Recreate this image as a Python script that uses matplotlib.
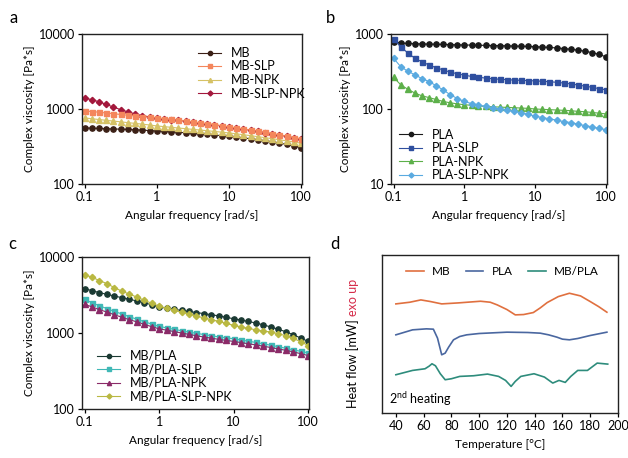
import matplotlib
matplotlib.use("Agg")
import matplotlib.pyplot as plt
from matplotlib.ticker import FixedLocator, NullLocator, FixedFormatter

plt.rcParams['font.family'] = ['Lato', 'DejaVu Sans']
plt.rcParams['mathtext.fontset'] = 'custom'
plt.rcParams['mathtext.rm'] = 'Lato'
plt.rcParams['font.size'] = 8.5

# angular frequency sweep [rad/s]
freq = [0.1, 0.126, 0.158, 0.2, 0.251, 0.316, 0.398, 0.501, 0.631, 0.794,
        1.0, 1.26, 1.58, 2.0, 2.51, 3.16, 3.98, 5.01, 6.31, 7.94,
        10, 12.6, 15.8, 20, 25.1, 31.6, 39.8, 50.1, 63.1, 79.4, 100]

# panel a: MB composites, complex viscosity [Pa*s]
mb = [560, 555, 550, 546, 542, 538, 533, 528, 522, 516, 510, 503, 496, 489, 482, 474,
      466, 458, 450, 441, 432, 422, 412, 401, 390, 378, 365, 351, 337, 322, 305]
mb_slp = [940, 925, 905, 885, 865, 845, 825, 805, 790, 775, 760, 742, 725, 708, 690, 672,
          654, 636, 618, 598, 578, 560, 542, 524, 506, 488, 470, 452, 434, 416, 400]
mb_npk = [760, 742, 724, 706, 690, 674, 658, 643, 628, 612, 595, 582, 570, 558, 546, 535,
          524, 513, 502, 491, 480, 467, 454, 441, 428, 415, 402, 389, 376, 363, 350]
mb_slp_npk = [1400, 1330, 1250, 1150, 1060, 980, 915, 860, 815, 785, 758, 740, 722, 705, 687, 669,
              651, 633, 615, 595, 575, 557, 539, 521, 503, 485, 467, 449, 431, 413, 397]

# panel b: PLA composites
pla = [790, 760, 748, 742, 738, 734, 730, 726, 722, 718, 714, 711, 708, 705, 702, 699,
       696, 692, 688, 683, 677, 670, 662, 652, 640, 626, 610, 590, 565, 535, 495]
pla_slp = [850, 680, 560, 475, 425, 387, 355, 332, 310, 295, 282, 272, 265, 258, 253, 249,
           246, 243, 241, 239, 237, 234, 231, 227, 222, 216, 209, 202, 195, 187, 180]
pla_npk = [266, 210, 184, 163, 150, 142, 134, 126, 121, 117, 114, 112, 110, 108, 107, 106,
           105, 104, 103, 102, 100, 99, 98, 97, 96, 95, 93, 92, 90, 88, 86]
pla_slp_npk = [475, 367, 320, 285, 255, 232, 205, 180, 155, 138, 126, 118, 113, 108, 104, 100,
               97, 93, 89, 85, 80, 77, 74, 71, 68, 66, 63, 60, 58, 55, 53]

# panel c: MB/PLA blends
blend = [3830, 3600, 3400, 3220, 3060, 2920, 2780, 2640, 2500, 2350, 2200, 2120, 2050, 1980, 1920, 1860,
         1800, 1740, 1680, 1610, 1540, 1480, 1420, 1350, 1280, 1200, 1120, 1040, 950, 860, 775]
blend_slp = [2760, 2500, 2280, 2090, 1920, 1780, 1640, 1520, 1410, 1310, 1220, 1170, 1120, 1070, 1030, 990,
             955, 920, 890, 865, 840, 810, 780, 750, 720, 690, 660, 630, 600, 575, 548]
blend_npk = [2390, 2200, 2030, 1880, 1740, 1610, 1500, 1400, 1300, 1210, 1135, 1090, 1045, 1000, 960, 920,
             885, 855, 825, 800, 774, 748, 722, 696, 670, 644, 618, 592, 565, 535, 505]
blend_slp_npk = [5850, 5400, 4900, 4450, 3950, 3550, 3250, 2970, 2700, 2460, 2260, 2120, 2000, 1880, 1770, 1670,
                 1580, 1500, 1420, 1340, 1260, 1200, 1150, 1100, 1060, 1030, 980, 920, 850, 770, 684]

# panel d: DSC 2nd heating, heat flow (arbitrary offset units)
t_mb = [40, 50, 58, 65, 73, 85, 101, 108, 113, 120, 126, 132, 139, 144, 149, 157, 165, 173, 180, 186, 192]
hf_mb = [3.28, 3.33, 3.40, 3.35, 3.28, 3.31, 3.36, 3.33, 3.25, 3.11, 2.95, 2.96, 3.02, 3.16, 3.32,
         3.50, 3.60, 3.52, 3.35, 3.20, 3.03]
t_pla = [40, 52, 62, 67, 70, 73, 75.5, 78, 81.5, 86, 91, 100, 120, 135, 144, 150, 156, 160, 165, 171, 180, 192]
hf_pla = [2.35, 2.50, 2.53, 2.52, 2.25, 1.75, 1.80, 1.98, 2.20, 2.30, 2.35, 2.39, 2.43, 2.42, 2.40,
          2.35, 2.28, 2.22, 2.20, 2.24, 2.33, 2.43]
t_blend = [40, 52, 61, 64, 66, 68.5, 72, 75.5, 80, 86, 96, 106, 114, 119, 123, 126, 130, 139.5, 147,
           153, 157.5, 162, 166, 171, 178, 185, 192.6]
hf_blend = [1.15, 1.28, 1.33, 1.41, 1.48, 1.42, 1.18, 1.00, 1.03, 1.10, 1.12, 1.17, 1.10, 0.98, 0.80,
            0.95, 1.10, 1.18, 1.08, 0.90, 0.98, 0.92, 1.10, 1.28, 1.28, 1.50, 1.47]

fig = plt.figure(figsize=(6.28, 4.58), dpi=100)
W, H = 628, 458


def add_axes(x0, y0, x1, y1):
    return fig.add_axes([x0 / W, 1 - y1 / H, (x1 - x0) / W, (y1 - y0) / H])


def style_box(ax):
    for s in ax.spines.values():
        s.set_linewidth(1.0)
        s.set_color('#222222')
    ax.tick_params(direction='out', length=3, width=0.9, pad=2, labelsize=9)


def rheo_axes(ax, ymin, ymax, yticks):
    ax.set_xscale('log')
    ax.set_yscale('log')
    ax.set_xlim(0.092, 103)
    ax.set_ylim(ymin, ymax)
    ax.xaxis.set_major_locator(FixedLocator([0.1, 1, 10, 100]))
    ax.xaxis.set_major_formatter(FixedFormatter(['0.1', '1', '10', '100']))
    ax.yaxis.set_major_locator(FixedLocator(yticks))
    ax.yaxis.set_major_formatter(FixedFormatter([str(v) for v in yticks]))
    ax.xaxis.set_minor_locator(NullLocator())
    ax.yaxis.set_minor_locator(NullLocator())
    ax.tick_params(top=False, right=False)
    ax.set_xlabel('Angular frequency [rad/s]', labelpad=5)
    ax.set_ylabel('Complex viscosity [Pa*s]', labelpad=3)
    style_box(ax)


def series(ax, y, color, marker, label, ms=3.8):
    ax.plot(freq, y, color=color, marker=marker, ms=ms, lw=0.8, label=label)


LEG = dict(loc='upper left', frameon=False, handlelength=1.8, labelspacing=0.12, borderpad=0,
           handletextpad=0.8, fontsize=9, markerscale=0.8)

# a
ax_a = add_axes(82, 34, 302, 184)
series(ax_a, mb, '#3b2016', 'o', 'MB')
series(ax_a, mb_npk, '#d6c266', '^', 'MB-NPK')
series(ax_a, mb_slp_npk, '#a3183c', 'D', 'MB-SLP-NPK', ms=3.2)
series(ax_a, mb_slp, '#f4865c', 's', 'MB-SLP', ms=3.6)
rheo_axes(ax_a, 100, 10000, [100, 1000, 10000])
h, l = ax_a.get_legend_handles_labels()
order = [0, 3, 1, 2]
ax_a.legend([h[i] for i in order], [l[i] for i in order], bbox_to_anchor=(0.5, 0.955), **LEG)

# b
ax_b = add_axes(391, 34, 607, 184)
series(ax_b, pla, '#1a1a1a', 'o', 'PLA')
series(ax_b, pla_slp, '#2f4f9f', 's', 'PLA-SLP', ms=3.6)
series(ax_b, pla_npk, '#5db04a', '^', 'PLA-NPK')
series(ax_b, pla_slp_npk, '#5aaae0', 'D', 'PLA-SLP-NPK', ms=3.2)
rheo_axes(ax_b, 10, 1000, [10, 100, 1000])
ax_b.legend(bbox_to_anchor=(0.01, 0.41), **LEG)

# c
ax_c = add_axes(82, 257, 309, 409)
series(ax_c, blend, '#1b3a33', 'o', 'MB/PLA')
series(ax_c, blend_slp, '#40b8b6', 's', 'MB/PLA-SLP', ms=3.6)
series(ax_c, blend_npk, '#8b2b68', '^', 'MB/PLA-NPK')
series(ax_c, blend_slp_npk, '#b9b842', 'D', 'MB/PLA-SLP-NPK', ms=3.2)
rheo_axes(ax_c, 100, 10000, [100, 1000, 10000])
ax_c.legend(bbox_to_anchor=(0.04, 0.43), **LEG)

# d
ax_d = add_axes(382, 255, 618, 413)
ax_d.plot(t_mb, hf_mb, color='#e0703f', lw=1.2, label='MB')
ax_d.plot(t_pla, hf_pla, color='#4a67a0', lw=1.2, label='PLA')
ax_d.plot(t_blend, hf_blend, color='#2e8c7c', lw=1.2, label='MB/PLA')
ax_d.set_xlim(30, 200)
ax_d.set_ylim(0, 4.75)
ax_d.set_xticks([40, 60, 80, 100, 120, 140, 160, 180, 200])
ax_d.set_yticks([])
style_box(ax_d)
ax_d.set_xlabel('Temperature [°C]', labelpad=5)
ax_d.legend(loc='upper center', bbox_to_anchor=(0.51, 0.97), ncol=3, frameon=False, handlelength=1.5,
            columnspacing=1.3, borderpad=0, handletextpad=0.7, fontsize=8.5)
ax_d.text(0.03, 0.03, '2$^{\\mathrm{nd}}$ heating', transform=ax_d.transAxes, fontsize=9,
          ha='left', va='bottom')

# y label of d in two colours
lab = fig.text(353 / W, 1 - 408 / H, 'Heat flow [mW] ', rotation=90, ha='center', va='bottom', fontsize=9)
fig.canvas.draw()
bb = lab.get_window_extent(fig.canvas.get_renderer())
fig.text(353 / W, bb.y1 / fig.bbox.height, 'exo up', rotation=90, ha='center', va='bottom',
         fontsize=9, color='#d62c4a')

# panel letters
for x, y, s in [(10, 18, 'a'), (326, 18, 'b'), (8, 244, 'c'), (330, 244, 'd')]:
    fig.text(x / W, 1 - y / H, s, fontsize=12, ha='left', va='center')

fig.savefig('out.png', dpi=100)
